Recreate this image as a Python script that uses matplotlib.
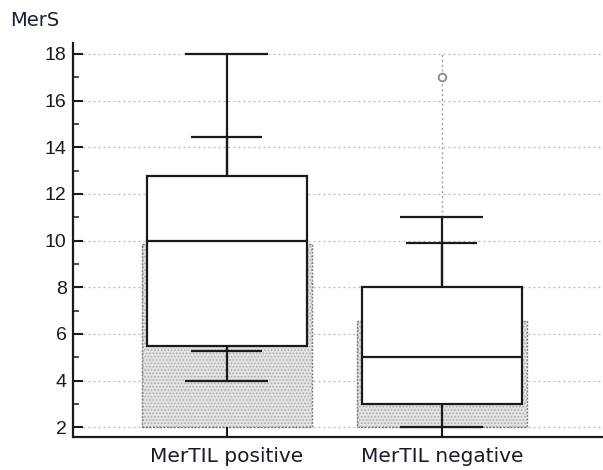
import matplotlib
matplotlib.use("Agg")
import matplotlib.pyplot as plt
import numpy as np

# ---- data ----
groups = ["MerTIL positive", "MerTIL negative"]
whisker_low = [4.0, 2.0]
q1 = [5.5, 3.0]
median = [10.0, 5.0]
q3 = [12.75, 8.0]
whisker_high = [18.0, 11.0]
mean = [9.85, 6.57]
sd = [4.58, 3.31]
outlier_group = [2]
outlier_value = [17.0]
yticks = [2, 4, 6, 8, 10, 12, 14, 16, 18]

plt.rcParams['hatch.linewidth'] = 0.7
fig = plt.figure(figsize=(6.03, 4.70), dpi=100)
ax = fig.add_axes([0.121, 0.0702, 0.879, 0.8383])

pos = np.arange(1, len(groups) + 1)
ymin = 1.584
ax.set_xlim(0.284, 2.75)
ax.set_ylim(ymin, 18.47)

# grid
for yv in yticks:
    ax.axhline(yv, color='#b8b8b8', lw=0.9, ls=(0, (1.5, 2.5)), zorder=0)

# mean bars (gray dotted texture)
base = yticks[0]
heights = [m - base for m in mean]
ax.bar(pos, heights, bottom=base, width=0.79, color='#e2e2e2', edgecolor='#a8a8a8',
       hatch='.....', linewidth=0, zorder=1)
ax.bar(pos, heights, bottom=base, width=0.79, fill=False, edgecolor='#7a7a7a',
       linewidth=1.0, linestyle=(0, (1.5, 1)), zorder=1.5)

# mean +/- SD error bars
lo = [m - s for m, s in zip(mean, sd)]
hi = [m + s for m, s in zip(mean, sd)]
lw = 1.6
ax.vlines(pos, lo, hi, color='#1a1a1a', lw=lw, zorder=2)
ax.hlines(lo, pos - 0.165, pos + 0.165, color='#1a1a1a', lw=lw, zorder=2)
ax.hlines(hi, pos - 0.165, pos + 0.165, color='#1a1a1a', lw=lw, zorder=2)

# boxes
box_h = [b - a for a, b in zip(q1, q3)]
ax.bar(pos, box_h, bottom=q1, width=0.745, color='white', edgecolor='#1a1a1a',
       linewidth=lw, zorder=3)
ax.hlines(median, pos - 0.3725, pos + 0.3725, color='#1a1a1a', lw=lw, zorder=4)

# whiskers
ax.vlines(pos, q3, whisker_high, color='#1a1a1a', lw=lw, zorder=3)
ax.vlines(pos, whisker_low, q1, color='#1a1a1a', lw=lw, zorder=3)
ax.hlines(whisker_high, pos - 0.193, pos + 0.193, color='#1a1a1a', lw=lw, zorder=3)
ax.hlines(whisker_low, pos - 0.193, pos + 0.193, color='#1a1a1a', lw=lw, zorder=3)

# outliers with dotted connection
for g, v in zip(outlier_group, outlier_value):
    ax.vlines(g, whisker_high[g - 1], max(yticks), color='#a0a0a0', lw=1.0,
              ls=(0, (1.5, 2)), zorder=2)
    ax.plot([g], [v], marker='o', ms=5.5, mfc='white', mec='#888888', mew=1.3, zorder=5)

# spines / ticks
for s in ['top', 'right']:
    ax.spines[s].set_visible(False)
ax.spines['left'].set_linewidth(1.6)
ax.spines['bottom'].set_linewidth(1.6)
ax.spines['left'].set_color('#1a1a1a')
ax.spines['bottom'].set_color('#1a1a1a')

ax.set_yticks(yticks)
ax.set_yticks(np.arange(3, 18, 2), minor=True)
ax.set_yticklabels([str(t) for t in yticks], fontsize=14, family='Liberation Sans',
                   color='#1a1a1a')
ax.tick_params(axis='y', which='major', direction='in', length=7.2, width=1.5,
               pad=4.5, colors='#1a1a1a')
ax.tick_params(axis='y', which='minor', direction='in', length=4.5, width=1.1,
               colors='#1a1a1a')
ax.set_xticks(pos)
ax.set_xticklabels(groups, fontsize=14.5, family='DejaVu Sans', color='#1a1a2a')
ax.tick_params(axis='x', direction='in', length=7.2, width=1.5, pad=7,
               colors='#1a1a1a')
for lab in ax.get_xticklabels():
    lab.set_color('#1a1a2a')
for lab in ax.get_yticklabels():
    lab.set_color('#1a1a1a')

fig.text(10 / 603, 1 - 20 / 470, "MerS", fontsize=14, family='DejaVu Sans',
         color='#1a2030', ha='left', va='center')

fig.savefig("out.png", dpi=100)
